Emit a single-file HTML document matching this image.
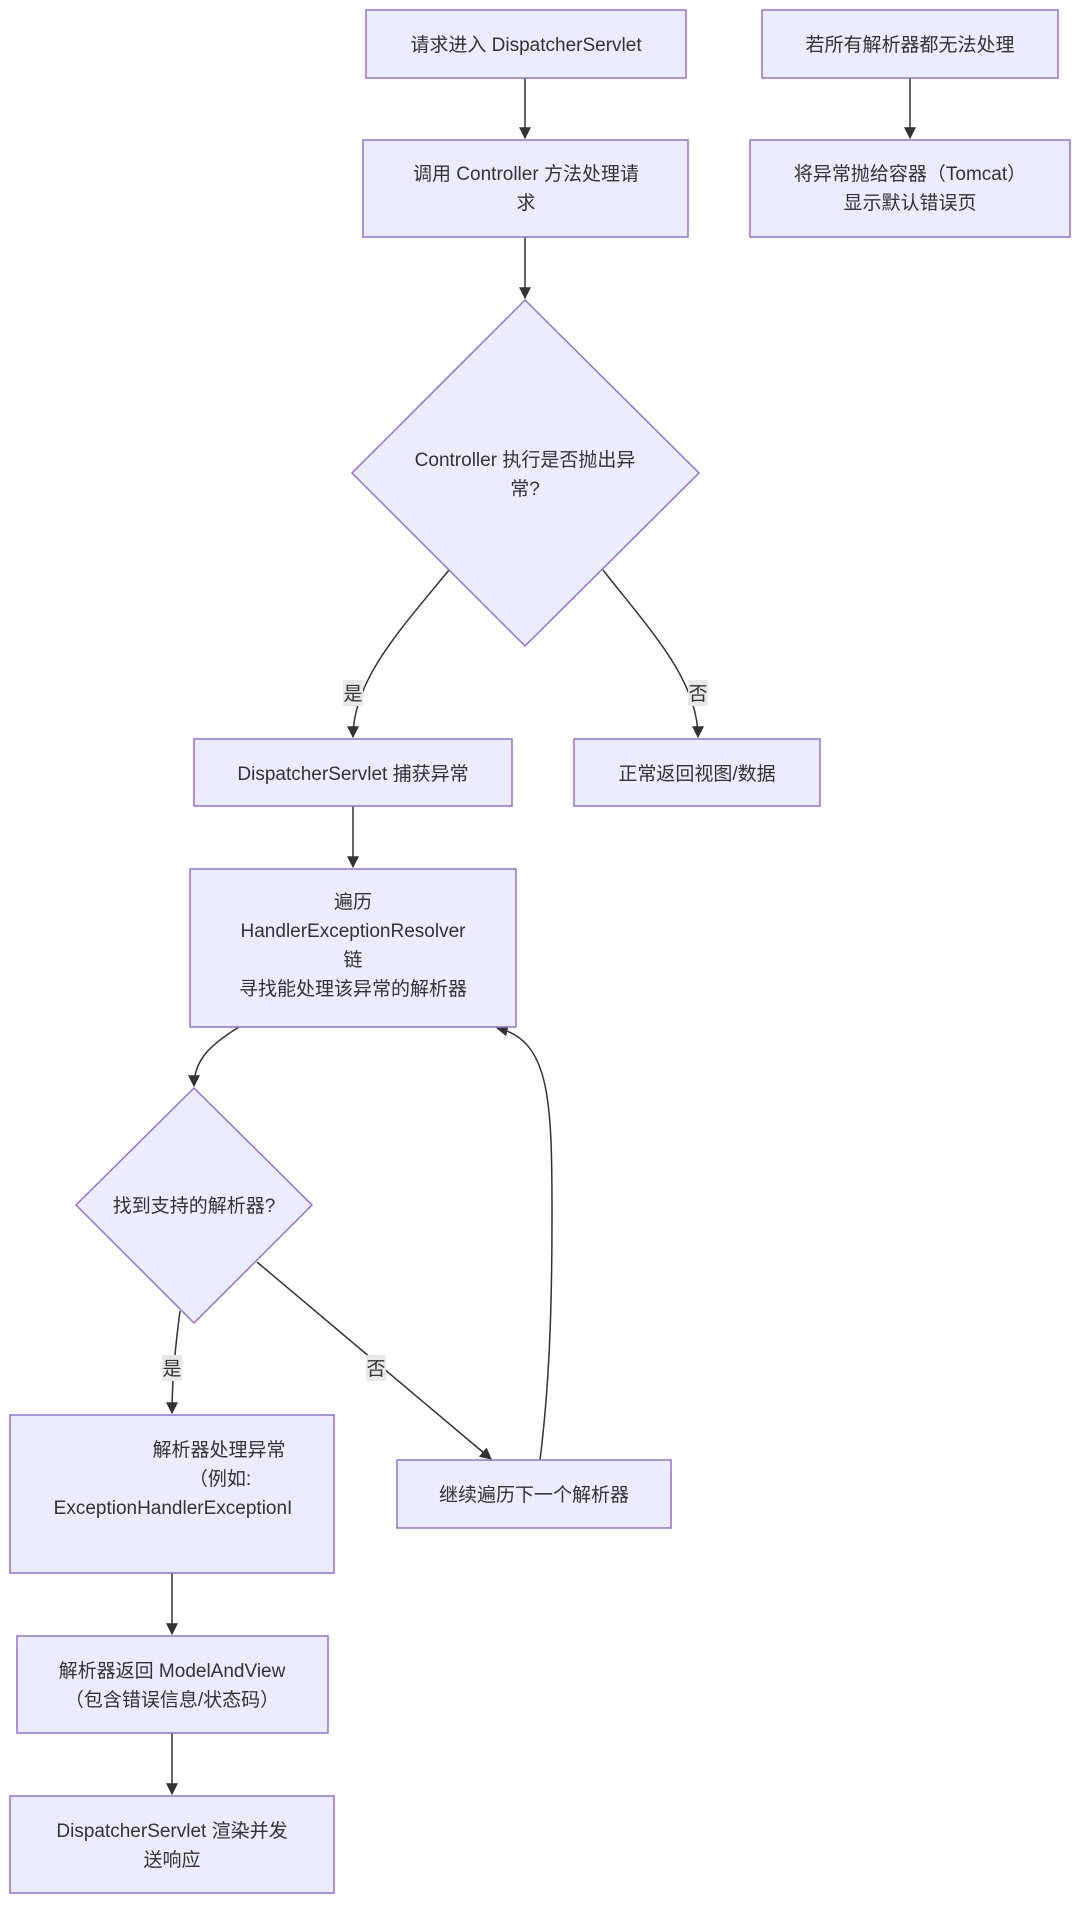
<!DOCTYPE html>
<html><head><meta charset="utf-8"><style>
html,body{margin:0;padding:0;background:#fff;}
svg text{font-family:"Liberation Sans","Noto Sans CJK SC",sans-serif;font-size:19px;fill:#333;text-anchor:middle;}
.n{fill:#ececff;stroke:#9370db;stroke-width:1.5;}
.e{fill:none;stroke:#333;stroke-width:1.5;}
.lb{fill:#e8e8e8;}
</style></head><body>
<svg width="1080" height="1903" viewBox="0 0 1080 1903" xmlns="http://www.w3.org/2000/svg">
<defs><marker id="a" viewBox="0 0 10 10" refX="9" refY="5" markerWidth="8" markerHeight="8" orient="auto"><path d="M0,0L10,5L0,10z" fill="#333"/></marker></defs>
<!-- edges -->
<path class="e" d="M525,78V138" marker-end="url(#a)"/>
<path class="e" d="M910,78V138" marker-end="url(#a)"/>
<path class="e" d="M525,237V298" marker-end="url(#a)"/>
<path class="e" d="M449,570C400,630 353,680 353,737" marker-end="url(#a)"/>
<path class="e" d="M603,570C650,630 698,680 698,737" marker-end="url(#a)"/>
<path class="e" d="M353,806V867" marker-end="url(#a)"/>
<path class="e" d="M239,1027C210,1045 194,1060 194,1086" marker-end="url(#a)"/>
<path class="e" d="M180,1311C175,1350 172,1380 172,1413" marker-end="url(#a)"/>
<path class="e" d="M257,1262L491,1459" marker-end="url(#a)"/>
<path class="e" d="M540,1460C550,1380 552,1300 552,1213C552,1100 550,1040 497,1028" marker-end="url(#a)"/>
<path class="e" d="M172,1573V1634" marker-end="url(#a)"/>
<path class="e" d="M172,1733V1794" marker-end="url(#a)"/>
<!-- edge labels -->
<rect class="lb" x="343" y="680" width="20" height="26"/><text x="353" y="700">是</text>
<rect class="lb" x="688" y="680" width="20" height="26"/><text x="698" y="700">否</text>
<rect class="lb" x="162" y="1355" width="20" height="26"/><text x="172" y="1375">是</text>
<rect class="lb" x="366" y="1355" width="20" height="26"/><text x="376" y="1375">否</text>
<!-- nodes -->
<rect class="n" x="366" y="10" width="320" height="68"/><text x="526" y="51">请求进入 DispatcherServlet</text>
<rect class="n" x="762" y="10" width="296" height="68"/><text x="910" y="51">若所有解析器都无法处理</text>
<rect class="n" x="363" y="140" width="325" height="97"/><text x="526" y="180">调用 Controller 方法处理请</text><text x="526" y="209">求</text>
<rect class="n" x="750" y="140" width="320" height="97"/><text x="910" y="180">将异常抛给容器（Tomcat）</text><text x="910" y="209">显示默认错误页</text>
<polygon class="n" points="525,300 699,473 525,646 352,473"/><text x="525" y="466">Controller 执行是否抛出异</text><text x="525" y="495">常?</text>
<rect class="n" x="194" y="739" width="318" height="67"/><text x="353" y="780">DispatcherServlet 捕获异常</text>
<rect class="n" x="574" y="739" width="246" height="67"/><text x="697" y="780">正常返回视图/数据</text>
<rect class="n" x="190" y="869" width="326" height="158"/><text x="353" y="908">遍历</text><text x="353" y="937">HandlerExceptionResolver</text><text x="353" y="966">链</text><text x="353" y="995">寻找能处理该异常的解析器</text>
<polygon class="n" points="194,1088 312,1205 194,1323 76,1205"/><text x="194" y="1212">找到支持的解析器?</text>
<rect class="n" x="10" y="1415" width="324" height="158"/><text x="219" y="1456">解析器处理异常</text><text x="220" y="1485">（例如:</text><text x="173" y="1514">ExceptionHandlerExceptionI</text>
<rect class="n" x="397" y="1460" width="274" height="68"/><text x="534" y="1501">继续遍历下一个解析器</text>
<rect class="n" x="17" y="1636" width="311" height="97"/><text x="172" y="1677">解析器返回 ModelAndView</text><text x="172" y="1706">（包含错误信息/状态码）</text>
<rect class="n" x="10" y="1796" width="324" height="97"/><text x="172" y="1837">DispatcherServlet 渲染并发</text><text x="172" y="1866">送响应</text>
</svg>
</body></html>
